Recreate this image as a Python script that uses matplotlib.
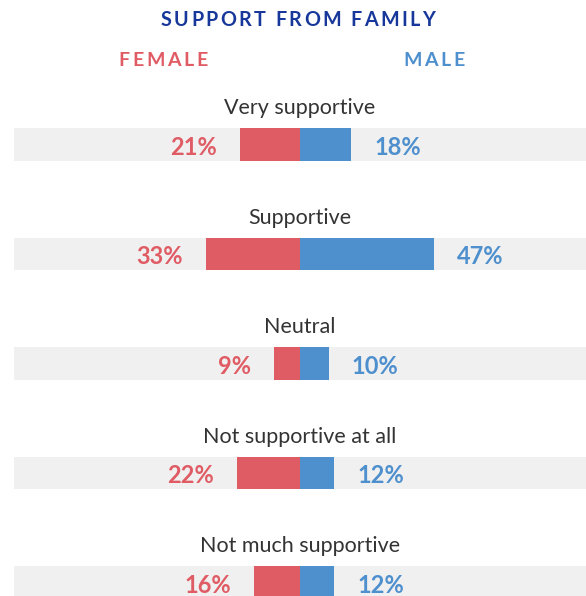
import matplotlib
matplotlib.use("Agg")
import matplotlib.pyplot as plt

categories = ["Very supportive", "Supportive", "Neutral",
              "Not supportive at all", "Not much supportive"]
female = [21, 33, 9, 22, 16]
male = [18, 47, 10, 12, 12]

RED = "#E05C65"
BLUE = "#4E8FCD"
NAVY = "#17389A"
BAND = "#F0F0F0"
TEXT = "#333333"
FONT = "Lato"

W, H, DPI = 586, 596, 100
fig = plt.figure(figsize=(W / DPI, H / DPI), dpi=DPI)
ax = fig.add_axes([14 / W, 0, 572 / W, 1])
ax.set_xlim(-100, 100)
ax.set_ylim(4.123, -1.32)
ax.axis("off")

rows = range(len(categories))
bar_h = 0.30
ax.barh(list(rows), [200] * len(categories), left=-100, height=bar_h,
        color=BAND, zorder=1)
ax.barh(list(rows), [-v for v in female], height=bar_h, color=RED, zorder=2)
ax.barh(list(rows), male, height=bar_h, color=BLUE, zorder=2)

gap = 8
for i, (cat, f, m) in enumerate(zip(categories, female, male)):
    ax.text(0, i - 0.33, cat, ha="center", va="center", fontsize=15.5,
            color=TEXT, family=FONT, fontweight="normal")
    ax.text(-f - gap, i + 0.025, f"{f}%", ha="right", va="center",
            fontsize=17, color=RED, family=FONT, fontweight="bold")
    ax.text(m + gap, i + 0.025, f"{m}%", ha="left", va="center",
            fontsize=17, color=BLUE, family=FONT, fontweight="bold")


def spaced_text(x_center, y_px, s, spacing, **kw):
    """Draw s centred at (x_center, y_px) in figure pixels with letter spacing."""
    renderer = fig.canvas.get_renderer()

    def width(t):
        if not t:
            return 0.0
        tmp = fig.text(0, 0, t + "|", **kw)
        w1 = tmp.get_window_extent(renderer).width
        tmp.remove()
        tmp = fig.text(0, 0, "|", **kw)
        w2 = tmp.get_window_extent(renderer).width
        tmp.remove()
        return w1 - w2

    total = width(s) + spacing * (len(s) - 1)
    x0 = x_center - total / 2
    for k, ch in enumerate(s):
        if ch == " ":
            continue
        x = x0 + width(s[:k]) + spacing * k
        fig.text(x / W, 1 - y_px / H, ch, ha="left", va="center", **kw)


spaced_text(298, 20, "SUPPORT FROM FAMILY", 2.4, fontsize=14.2, color=NAVY,
            family=FONT, fontweight="bold")
spaced_text(163, 61, "FEMALE", 2.6, fontsize=14, color=RED,
            family=FONT, fontweight="bold")
spaced_text(434, 61, "MALE", 2.6, fontsize=14, color=BLUE,
            family=FONT, fontweight="bold")

fig.savefig("out.png", dpi=DPI, facecolor="white")
